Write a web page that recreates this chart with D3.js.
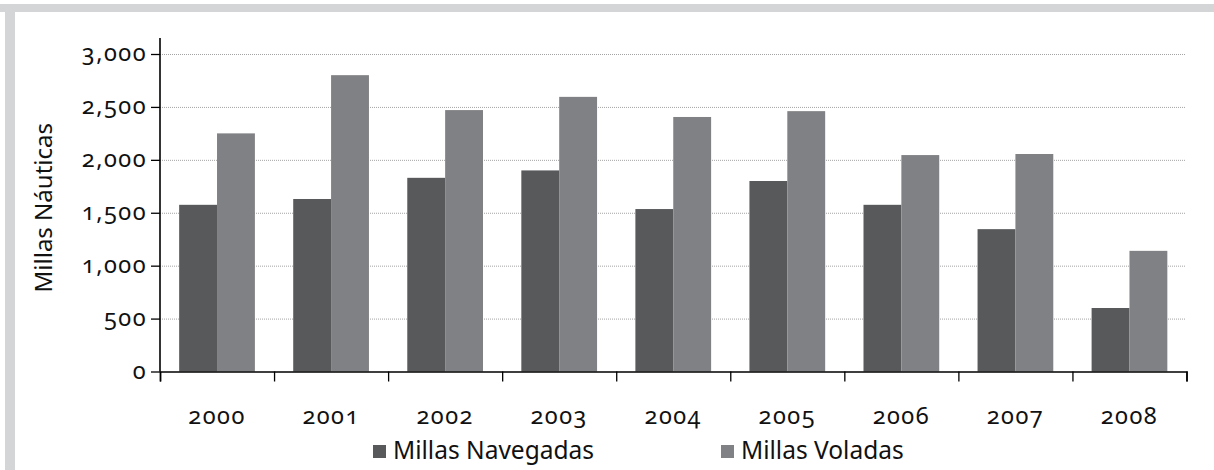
<!DOCTYPE html>
<html>
<head>
<meta charset="utf-8">
<script src="https://cdn.jsdelivr.net/npm/d3@7"></script>
<style>
  body { margin: 0; background: #fff; }
  svg { display: block; font-family: "Noto Sans", sans-serif; }
  .axis text { font-family: "Noto Sans", sans-serif; font-size: 23.5px; fill: #111; font-variant-numeric: oldstyle-nums; font-feature-settings: "onum" 1; letter-spacing: 1.5px; }
  .axis line { stroke: #000; stroke-width: 1.3; }
  .grid line { stroke: #a3a3a3; stroke-dasharray: 1,1; }
  .grid .domain { display: none; }
  .legend text { font-size: 24.5px; fill: #111; }
</style>
</head>
<body>
<svg id="chart" width="1214" height="470"></svg>
<script>
var years = ["2000", "2001", "2002", "2003", "2004", "2005", "2006", "2007", "2008"];
var navegadas = [1575, 1630, 1830, 1900, 1535, 1800, 1575, 1345, 600];
var voladas = [2250, 2800, 2470, 2595, 2405, 2460, 2045, 2055, 1140];
var seriesNames = ["Millas Navegadas", "Millas Voladas"];
var yTicks = [0, 500, 1000, 1500, 2000, 2500, 3000];

var svg = d3.select("#chart");
var W = +svg.attr("width"), H = +svg.attr("height");
var margin = { top: 54, right: 27.5, bottom: 98.5, left: 160 };
var width = W - margin.left - margin.right;
var height = H - margin.top - margin.bottom;

// grey frame
svg.append("rect").attr("x", 0).attr("y", 4).attr("width", W).attr("height", 8).attr("fill", "#d4d5d6");
svg.append("rect").attr("x", 5).attr("y", 4).attr("width", 10).attr("height", H - 4).attr("fill", "#d4d5d6");

var g = svg.append("g").attr("transform", "translate(" + margin.left + "," + margin.top + ")");

var x0 = d3.scaleBand().domain(years).range([0, width]).paddingInner(0.336).paddingOuter(0.168);
var x1 = d3.scaleBand().domain(seriesNames).range([0, x0.bandwidth()]);
var edges = d3.scaleLinear().domain([0, years.length]).range([0, width]);
var y = d3.scaleLinear().domain([0, 3000]).range([height, 0]);
var z = d3.scaleOrdinal().domain(seriesNames).range(["#58595b", "#808184"]);

var data = years.map(function (d, i) {
  return { year: d, values: [[seriesNames[0], navegadas[i]], [seriesNames[1], voladas[i]]] };
});

// dotted gridlines
g.append("g")
  .attr("class", "grid")
  .call(d3.axisLeft(y).tickValues(yTicks.slice(1)).tickSize(-width + 1).tickFormat(""));

g.selectAll(".group")
  .data(data)
  .enter()
  .append("g")
  .attr("class", "group")
  .attr("transform", function (d) { return "translate(" + x0(d.year) + ",0)"; })
  .selectAll("rect")
  .data(function (d) { return d.values; })
  .enter()
  .append("rect")
  .attr("x", function (d) { return x1(d[0]); })
  .attr("y", function (d) { return y(d[1]); })
  .attr("width", x1.bandwidth())
  .attr("height", function (d) { return height - y(d[1]); })
  .attr("fill", function (d) { return z(d[0]); });

// y axis
var yAxis = g.append("g")
  .attr("class", "axis")
  .call(d3.axisLeft(y).tickValues(yTicks).tickSize(9).tickPadding(4).tickFormat(d3.format(",")));
yAxis.select(".domain").remove();
yAxis.selectAll("text").attr("dy", "0.28em");
g.append("line")
  .attr("x1", 0).attr("x2", 0)
  .attr("y1", y(3000) - 16).attr("y2", height)
  .attr("stroke", "#000").attr("stroke-width", 1.6);

// x axis: ticks on category edges, labels centred
var xAxis = g.append("g")
  .attr("class", "axis")
  .attr("transform", "translate(0," + height + ")")
  .call(d3.axisBottom(edges).tickValues(d3.range(years.length + 1)).tickSize(10).tickFormat(""));
xAxis.select(".domain").attr("stroke", "#000").attr("stroke-width", 1.6);

var xLabels = g.append("g")
  .attr("class", "axis")
  .attr("transform", "translate(0," + height + ")")
  .call(d3.axisBottom(x0).tickSize(0));
xLabels.select(".domain").remove();
xLabels.selectAll("text").attr("y", 52.5).attr("dy", 0);

// y axis title
svg.append("text")
  .attr("transform", "translate(52," + (margin.top + height / 2 - 5) + ") rotate(-90)")
  .attr("text-anchor", "middle")
  .attr("font-size", "24px")
  .attr("fill", "#111")
  .text("Millas Náuticas");

// legend
var legendX = [373, 721];
var legend = svg.append("g").attr("class", "legend");
var item = legend.selectAll("g")
  .data(seriesNames)
  .enter()
  .append("g")
  .attr("transform", function (d, i) { return "translate(" + legendX[i] + ",445)"; });
item.append("rect").attr("width", 13).attr("height", 13).attr("fill", function (d) { return z(d); });
item.append("text").attr("x", 20).attr("y", 14).text(function (d) { return d; });
</script>
</body>
</html>
